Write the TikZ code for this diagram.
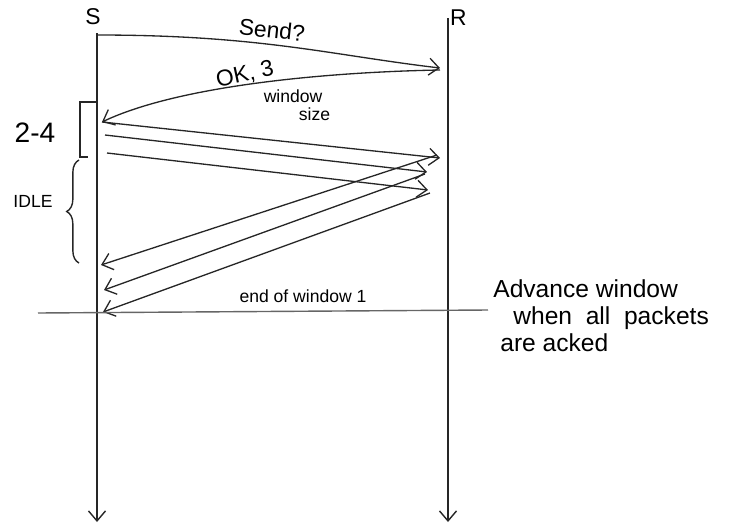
\documentclass[tikz,border=0pt]{standalone}
\usepackage{fontspec}
\setmainfont{Liberation Sans}
\usetikzlibrary{arrows.meta,positioning,decorations.pathreplacing}

\begin{document}
\begin{tikzpicture}[
  x=0.02cm, y=-0.02cm,
  font=\fontsize{11}{13}\selectfont,
  >={Straight Barb[length=2mm,width=3.4mm]},
  life/.style={->, line width=0.8pt, black!85},
  msg/.style={->, line width=0.75pt, black!85},
  lbl/.style={inner sep=1pt},
  note/.style={align=left, inner sep=0pt, anchor=west, font=\fontsize{14}{16}\selectfont},
  small/.style={inner sep=1pt, font=\fontsize{10}{12}\selectfont},
]
\useasboundingbox (0,0) rectangle (735,525);
% lifelines
\coordinate (sTop) at (97,33);
\coordinate (sEnd) at (97,522);
\coordinate (rTop) at (448,18);
\coordinate (rEnd) at (448,522);
\node[lbl, font=\fontsize{13}{15}\selectfont] (sLbl) at (93,17) {S};
\node[lbl, font=\fontsize{13}{15}\selectfont, right=0mm of rTop] (rLbl) {R};
\draw[life] (sTop) -- (sEnd);
\draw[life] (rTop) -- (rEnd);
% handshake
\coordinate (send0) at (97,35);
\coordinate (send1) at (440,68);
\coordinate (ok0) at (440,70);
\coordinate (ok1) at (102,122);
\draw[msg] (send0) .. controls (260,35) and (330,55) .. (send1);
\draw[msg] (ok0) .. controls (330,72) and (180,85) .. (ok1);
\node[lbl, rotate=-6, font=\fontsize{13}{15}\selectfont] (sendLbl) at (272,30) {Send?};
\node[lbl, rotate=12, font=\fontsize{13}{15}\selectfont] (okLbl) at (245,75) {OK, 3};
\node[small, align=left, inner sep=0pt] (winLbl) at (297,105) {window\\[-2pt]\hspace*{2em}size};
% packets of window 1
\coordinate (p1a) at (102,122);
\coordinate (p1b) at (440,158);
\coordinate (p2a) at (105,135);
\coordinate (p2b) at (427,172);
\coordinate (p3a) at (107,153);
\coordinate (p3b) at (428,190);
\draw[msg] (p1a) -- (p1b);
\draw[msg] (p2a) -- (p2b);
\draw[msg] (p3a) -- (p3b);
% acks
\coordinate (a1a) at (437,155);
\coordinate (a1b) at (101,265);
\coordinate (a2a) at (425,174);
\coordinate (a2b) at (104,290);
\coordinate (a3a) at (430,193);
\coordinate (a3b) at (103,312);
\draw[msg] (a1a) -- (a1b);
\draw[msg] (a2a) -- (a2b);
\draw[msg] (a3a) -- (a3b);
% end of window
\coordinate (ewL) at (38,313);
\coordinate (ewR) at (488,310);
\draw[line width=0.8pt, black!60] (ewL) -- (ewR);
\node[small] (ewLbl) at (303,296) {end of window 1};
% brackets on the left
\coordinate (b24top) at (97,102);
\coordinate (b24bot) at (88,157);
\draw[line width=0.8pt, black!85] (b24top) -- (80,102) -- (80,157) -- (b24bot);
\node[lbl, font=\fontsize{16}{18}\selectfont] (b24Lbl) at (35,133) {2-4};
\coordinate (idleTop) at (79,160);
\coordinate (idleBot) at (79,263);
\draw[line width=0.8pt, black!85, decorate, decoration={brace, amplitude=7pt}] (idleBot) -- (idleTop);
\node[small] (idleLbl) at (33,201) {IDLE};
% note
\node[note] (advLbl) at (493,289) {Advance window};
\node[note] (whenLbl) at (513,318) {when\ \ all\ \ packets};
\node[note] (areLbl) at (500,343) {are acked};
\end{tikzpicture}
\end{document}
